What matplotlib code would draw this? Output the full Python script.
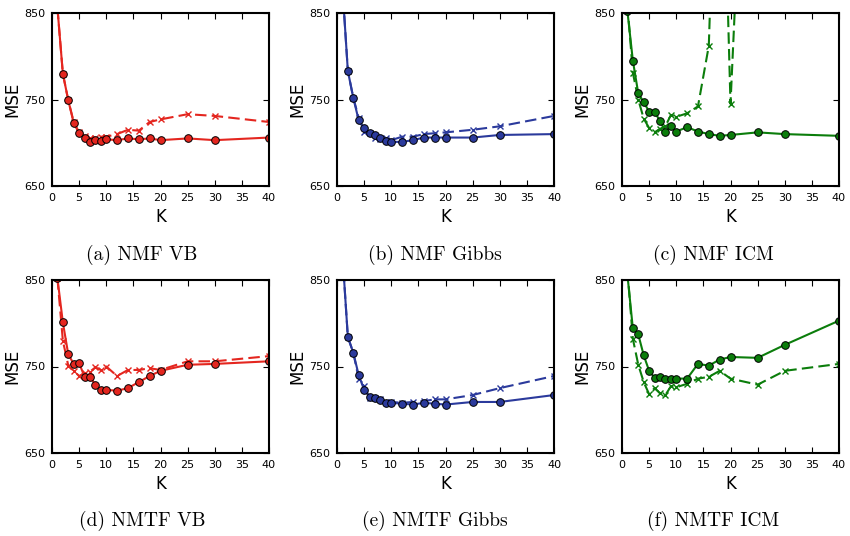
import matplotlib
matplotlib.use("Agg")
import matplotlib.pyplot as plt

K = [1, 2, 3, 4, 5, 6, 7, 8, 9, 10, 12, 14, 16, 18, 20, 25, 30, 40]

# solid = circles, dashed = crosses
nmf_vb_solid = [856, 780, 749, 723, 711, 705, 701, 703, 702, 704, 703, 705, 704, 705, 703, 705, 703, 706]
nmf_vb_dash = [856, 780, 749, 724, 712, 708, 705, 706, 707, 707, 710, 715, 714, 724, 727, 733, 731, 724]
nmf_gibbs_solid = [880, 783, 752, 726, 717, 711, 709, 705, 702, 701, 701, 703, 706, 706, 706, 706, 709, 710]
nmf_gibbs_dash = [880, 783, 752, 729, 713, 711, 706, 704, 705, 703, 707, 707, 710, 711, 712, 715, 719, 731]
nmf_icm_solid = [852, 795, 757, 747, 736, 736, 725, 713, 719, 713, 718, 713, 710, 708, 709, 712, 710, 708]
nmf_icm_dash = [860, 781, 750, 728, 717, 712, 716, 719, 732, 730, 734, 742, 812, 1200, 745, 1435, 1500, 1600]
nmtf_vb_solid = [852, 801, 764, 753, 754, 738, 738, 729, 723, 723, 722, 725, 732, 739, 745, 752, 753, 756]
nmtf_vb_dash = [852, 780, 751, 745, 739, 742, 744, 749, 746, 750, 739, 746, 746, 748, 746, 756, 756, 762]
nmtf_gibbs_solid = [880, 784, 766, 740, 723, 715, 714, 711, 708, 708, 707, 706, 708, 707, 706, 709, 709, 717]
nmtf_gibbs_dash = [880, 784, 766, 736, 727, 714, 714, 712, 709, 709, 708, 709, 710, 712, 712, 717, 725, 739]
nmtf_icm_solid = [856, 794, 787, 763, 745, 737, 738, 736, 735, 736, 736, 753, 751, 758, 761, 760, 775, 803]
nmtf_icm_dash = [862, 782, 752, 732, 718, 725, 719, 717, 727, 726, 730, 736, 738, 745, 736, 729, 745, 753]

captions = ["(a) NMF VB", "(b) NMF Gibbs", "(c) NMF ICM",
            "(d) NMTF VB", "(e) NMTF Gibbs", "(f) NMTF ICM"]

red = "#e4261f"
blue = "#2b3a9c"
green = "#0b7d0b"

panels = [
    (nmf_vb_solid, nmf_vb_dash, red),
    (nmf_gibbs_solid, nmf_gibbs_dash, blue),
    (nmf_icm_solid, nmf_icm_dash, green),
    (nmtf_vb_solid, nmtf_vb_dash, red),
    (nmtf_gibbs_solid, nmtf_gibbs_dash, blue),
    (nmtf_icm_solid, nmtf_icm_dash, green),
]

W, H = 850, 536
fig = plt.figure(figsize=(8.5, 5.36), dpi=100)

lefts = [52, 337, 622]
tops = [13, 280]
ax_w, ax_h = 217, 173
cap_x = [142, 435, 713]
cap_y = [255, 521]

for i, (solid, dash, col) in enumerate(panels):
    r, c = divmod(i, 3)
    ax = fig.add_axes([lefts[c] / W, 1 - (tops[r] + ax_h) / H, ax_w / W, ax_h / H])
    ax.plot(K, dash, linestyle=(0, (5.5, 2.5)), color=col, lw=1.5,
            marker="x", markersize=5, markeredgewidth=1)
    ax.plot(K, solid, linestyle="-", color=col, lw=1.5,
            marker="o", markersize=5.5, markerfacecolor=col,
            markeredgecolor="black", markeredgewidth=0.7)
    ax.set_xlim(0, 40)
    ax.set_ylim(650, 850)
    ax.set_xticks(range(0, 41, 5))
    ax.set_yticks([650, 750, 850])
    ax.tick_params(direction="in", top=True, right=True, length=4,
                   width=0.8, labelsize=8)
    ax.tick_params(axis="x", pad=5)
    ax.tick_params(axis="y", pad=5)
    for s in ax.spines.values():
        s.set_linewidth(1.5)
    ax.set_xlabel("K", fontsize=12)
    ax.set_ylabel("MSE", fontsize=12)
    ax.xaxis.set_label_coords(0.5, -22 / ax_h)
    ax.yaxis.set_label_coords(-31 / ax_w, 0.5)
    fig.text(cap_x[c] / W, 1 - cap_y[r] / H, captions[i], fontname="cmr10",
             fontsize=14, ha="center", va="center")

fig.savefig("out.png", dpi=100)
